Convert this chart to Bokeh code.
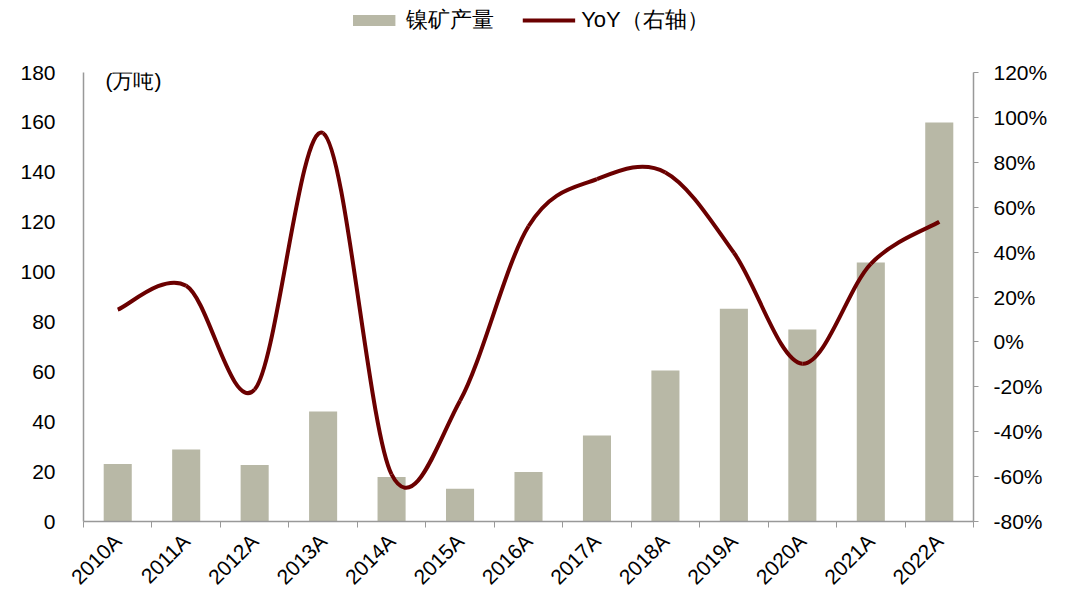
import math
from bokeh.plotting import figure
from bokeh.layouts import column
from bokeh.models import (Range1d, LinearAxis, FixedTicker, NumeralTickFormatter,
                          Legend, LegendItem, Label, ColumnDataSource)
from bokeh.embed import file_html
from bokeh.resources import INLINE

# ---- data ----
years = ["2010A", "2011A", "2012A", "2013A", "2014A", "2015A", "2016A",
         "2017A", "2018A", "2019A", "2020A", "2021A", "2022A"]
output = [23.1, 28.9, 22.7, 44.1, 17.8, 13.1, 19.8, 34.5, 60.5, 85.3, 77.0, 103.8, 160.0]
yoy = [0.144, 0.25, -0.212, 0.93, -0.59, -0.262, 0.515, 0.725, 0.755, 0.397, -0.097, 0.348, 0.535]
left_ticks = [0, 20, 40, 60, 80, 100, 120, 140, 160, 180]
right_ticks = [-0.8, -0.6, -0.4, -0.2, 0.0, 0.2, 0.4, 0.6, 0.8, 1.0, 1.2]
series_names = ["镍矿产量", "YoY（右轴）"]
unit_text = "(万吨)"

FONT = "Liberation Sans"
BAR = "#B8B8A6"
LINE = "#6B0000"
AXIS = "#999999"
FS = "21px"

n = len(years)
xs = [i + 0.5 for i in range(n)]

# ---------------- main chart ----------------
p = figure(width=1066, height=559, output_backend="svg", toolbar_location=None,
           x_range=Range1d(0, n), y_range=Range1d(0, 180),
           min_border_left=83, min_border_right=93, min_border_top=32, min_border_bottom=78)
p.outline_line_color = None
p.xgrid.visible = False
p.ygrid.visible = False
p.extra_y_ranges = {"yoy": Range1d(-0.8, 1.2)}

src = ColumnDataSource(dict(x=xs, top=output))
p.vbar(x="x", top="top", width=0.41, bottom=0, source=src,
       fill_color=BAR, line_color=None)

# smooth YoY line: Bezier segments through the data points
def ext(a, i):
    return a[max(0, min(len(a) - 1, i))]

x0, y0, x1, y1, cx0, cy0, cx1, cy1 = [], [], [], [], [], [], [], []
for i in range(n - 1):
    x0.append(xs[i]); y0.append(yoy[i])
    x1.append(xs[i + 1]); y1.append(yoy[i + 1])
    cx0.append(xs[i] + (ext(xs, i + 1) - ext(xs, i - 1)) / 6)
    cy0.append(yoy[i] + (ext(yoy, i + 1) - ext(yoy, i - 1)) / 6)
    cx1.append(xs[i + 1] - (ext(xs, i + 2) - ext(xs, i)) / 6)
    cy1.append(yoy[i + 1] - (ext(yoy, i + 2) - ext(yoy, i)) / 6)

p.bezier(x0=x0, y0=y0, x1=x1, y1=y1, cx0=cx0, cy0=cy0, cx1=cx1, cy1=cy1,
         line_color=LINE, line_width=4, y_range_name="yoy")

# x axis: labels at category centres, ticks at category boundaries
xa = p.xaxis[0]
xa.ticker = FixedTicker(ticks=xs, minor_ticks=list(range(n + 1)))
xa.major_label_overrides = {x: y for x, y in zip(xs, years)}
xa.major_label_orientation = math.pi / 4
xa.major_tick_out = 0
xa.major_tick_in = 0
xa.minor_tick_out = 6
xa.minor_tick_in = 0
xa.minor_tick_line_color = AXIS
xa.axis_line_color = AXIS
xa.axis_line_width = 1.5
xa.major_label_text_font = FONT
xa.major_label_text_font_size = FS
xa.major_label_text_color = "black"
xa.major_label_standoff = 10

# left axis
ya = p.yaxis[0]
ya.ticker = FixedTicker(ticks=left_ticks)
ya.major_tick_out = 0
ya.major_tick_in = 0
ya.minor_tick_line_color = None
ya.axis_line_color = AXIS
ya.axis_line_width = 1.5
ya.major_label_text_font = FONT
ya.major_label_text_font_size = FS
ya.major_label_text_color = "black"
ya.major_label_standoff = 28

# right axis
ra = LinearAxis(y_range_name="yoy", ticker=FixedTicker(ticks=right_ticks),
                formatter=NumeralTickFormatter(format="0%"))
ra.major_tick_out = 5
ra.major_tick_in = 0
ra.major_tick_line_color = AXIS
ra.minor_tick_line_color = None
ra.axis_line_color = AXIS
ra.axis_line_width = 1.5
ra.major_label_text_font = FONT
ra.major_label_text_font_size = FS
ra.major_label_text_color = "black"
ra.major_label_standoff = 15
p.add_layout(ra, "right")

p.add_layout(Label(x=0.32, y=176.8, text=unit_text, text_font=FONT, text_font_size=FS,
                   text_baseline="middle", text_align="left", text_color="black"))

# ---------------- legend strip on top ----------------
top = figure(width=1066, height=40, output_backend="svg", toolbar_location=None,
             x_range=Range1d(0, n), y_range=Range1d(1000, 1001),
             x_axis_type=None, y_axis_type=None,
             min_border_left=0, min_border_right=0, min_border_top=0, min_border_bottom=0)
top.outline_line_color = None
lb = top.vbar(x=xs, top=output, width=0.41, fill_color=BAR, line_color=None)
ll = top.line(x=xs, y=yoy, line_color=LINE, line_width=4)

legend = Legend(items=[LegendItem(label=series_names[0], renderers=[lb]),
                       LegendItem(label=series_names[1], renderers=[ll])],
                orientation="horizontal", location="center",
                glyph_width=53, glyph_height=14, label_standoff=6, spacing=28,
                padding=0, margin=0, border_line_color=None, background_fill_alpha=0,
                label_text_font=FONT, label_text_font_size="22px", label_text_color="black")
top.add_layout(legend, "center")

layout = column(top, p, spacing=0)
open("out.html", "w").write(file_html(layout, INLINE))
